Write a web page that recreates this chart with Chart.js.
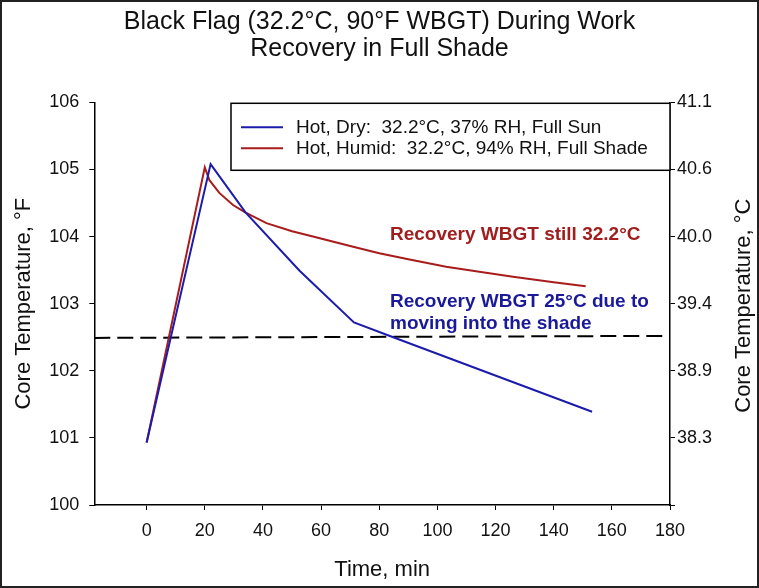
<!DOCTYPE html>
<html lang="en">
<head>
  <meta charset="UTF-8">
  <title>Black Flag During Work</title>
  <script src="https://cdn.jsdelivr.net/npm/chart.js"></script>
  <style>
    html, body { margin: 0; padding: 0; background: #fff; }
    #chart { display: block; }
  </style>
</head>
<body>
  <canvas id="chart" width="759" height="588"></canvas>

  <script>
    // values (time in min, core temp in °F)
    const dryTime = [0, 22, 34, 52.6, 71.3, 84.8, 153.2];
    const dryTemp = [100.93, 105.08, 104.36, 103.49, 102.72, 102.50, 101.39];

    const humidTime = [0, 20, 21.6, 25, 29.7, 33.9, 41.2, 50, 57.2, 70, 80, 90, 103, 115, 126, 140, 151];
    const humidTemp = [100.93, 105.03, 104.84, 104.65, 104.47, 104.36, 104.2, 104.08, 104.0, 103.86, 103.75, 103.66, 103.55, 103.47, 103.40, 103.32, 103.26];

    const limitTime = [-18, 180];
    const limitTemp = [102.49, 102.52];

    const seriesNames = [
      'Hot, Dry:  32.2°C, 37% RH, Full Sun',
      'Hot, Humid:  32.2°C, 94% RH, Full Shade'
    ];

    const xTicks = [0, 20, 40, 60, 80, 100, 120, 140, 160, 180];
    const yTicks = [100, 101, 102, 103, 104, 105, 106];

    const blue = '#1c1cac';
    const red = '#a81c1c';
    const FONT = 'Liberation Sans, Arial, sans-serif';

    const pts = (xs, ys) => xs.map((x, i) => ({ x: x, y: ys[i] }));
    const fToC = f => ((f - 32) * 5 / 9).toFixed(1);

    // white page + outer frame
    const frame = {
      id: 'frame',
      beforeDraw(chart) {
        const c = chart.ctx;
        c.save();
        c.fillStyle = '#fff';
        c.fillRect(0, 0, chart.width, chart.height);
        c.restore();
      },
      afterDraw(chart) {
        const c = chart.ctx;
        c.save();
        c.strokeStyle = '#222';
        c.lineWidth = 2;
        c.strokeRect(1, 1, chart.width - 2, chart.height - 2);
        c.restore();
      }
    };

    // boxed legend, text notes and the right-hand axis title
    const extras = {
      id: 'extras',
      afterDraw(chart) {
        const c = chart.ctx;
        const a = chart.chartArea;
        const xs = chart.scales.x, ys = chart.scales.y;
        c.save();

        // legend box
        const bw = 439, bh = 67;
        const bx = a.right - bw, by = a.top + 1;
        c.fillStyle = '#fff';
        c.fillRect(bx, by, bw, bh);
        c.strokeStyle = '#000';
        c.lineWidth = 1.5;
        c.strokeRect(bx, by, bw, bh);
        c.font = '19px ' + FONT;
        c.textBaseline = 'middle';
        c.textAlign = 'left';
        const rows = [by + 24, by + 45];
        chart.data.datasets.slice(0, 2).forEach((ds, i) => {
          c.strokeStyle = ds.borderColor;
          c.lineWidth = 2;
          c.beginPath();
          c.moveTo(bx + 10, rows[i]);
          c.lineTo(bx + 52, rows[i]);
          c.stroke();
          c.fillStyle = '#111';
          c.fillText(ds.label, bx + 65, rows[i]);
        });

        // notes
        c.font = 'bold 19px ' + FONT;
        c.fillStyle = '#a01e1e';
        c.fillText('Recovery WBGT still 32.2°C', xs.getPixelForValue(83.7), ys.getPixelForValue(104.02));
        c.fillStyle = '#1a1a99';
        c.fillText('Recovery WBGT 25°C due to', xs.getPixelForValue(83.7), ys.getPixelForValue(103.03));
        c.fillText('moving into the shade', xs.getPixelForValue(83.7), ys.getPixelForValue(102.70));

        // right axis title, reading upwards
        c.font = '22px ' + FONT;
        c.fillStyle = '#111';
        c.textAlign = 'center';
        c.translate(744, (a.top + a.bottom) / 2 + 2);
        c.rotate(-Math.PI / 2);
        c.fillText('Core Temperature, °C', 0, 0);
        c.restore();
      }
    };

    const tickFont = { family: FONT, size: 18 };

    new Chart(document.getElementById('chart'), {
      type: 'line',
      data: {
        datasets: [
          { label: seriesNames[0], data: pts(dryTime, dryTemp), borderColor: blue, borderWidth: 2 },
          { label: seriesNames[1], data: pts(humidTime, humidTemp), borderColor: red, borderWidth: 2 },
          { label: 'limit', data: pts(limitTime, limitTemp), borderColor: '#000', borderWidth: 2, borderDash: [16, 7] }
        ]
      },
      options: {
        responsive: false,
        animation: false,
        devicePixelRatio: 1,
        layout: { padding: 0 },
        elements: { point: { radius: 0 }, line: { tension: 0 } },
        plugins: {
          legend: { display: false },
          tooltip: { enabled: false },
          title: {
            display: true,
            text: ['Black Flag (32.2°C, 90°F WBGT) During Work', 'Recovery in Full Shade'],
            color: '#111',
            font: { family: FONT, size: 25, weight: 'normal', lineHeight: 1.08 },
            padding: { top: 8.5, bottom: 39.8 }
          }
        },
        scales: {
          x: {
            type: 'linear',
            min: -18,
            max: 180,
            afterBuildTicks: s => { s.ticks = xTicks.map(v => ({ value: v })); },
            afterFit: s => { s.height = 83; },
            grid: { drawOnChartArea: false, drawTicks: true, tickLength: 5, color: '#000' },
            border: { display: true, color: '#000', width: 1.5 },
            ticks: { color: '#111', font: tickFont, padding: 10, maxRotation: 0 },
            title: { display: true, text: 'Time, min', color: '#111', font: { family: FONT, size: 22 }, padding: { top: 0, bottom: 5 } }
          },
          y: {
            position: 'left',
            min: 100,
            max: 106,
            afterBuildTicks: s => { s.ticks = yTicks.map(v => ({ value: v })); },
            afterFit: s => { s.width = 94.3; },
            grid: { drawOnChartArea: false, drawTicks: true, tickLength: 5, color: '#000' },
            border: { display: true, color: '#000', width: 1.5 },
            ticks: { color: '#111', font: tickFont, padding: 10 },
            title: { display: true, text: 'Core Temperature, °F', color: '#111', font: { family: FONT, size: 22 }, padding: { top: 11, bottom: 0 } }
          },
          y2: {
            position: 'right',
            min: 100,
            max: 106,
            afterBuildTicks: s => { s.ticks = yTicks.map(v => ({ value: v })); },
            afterFit: s => { s.width = 89; },
            grid: { drawOnChartArea: false, drawTicks: true, tickLength: 5, color: '#000' },
            border: { display: true, color: '#000', width: 1.5 },
            ticks: { color: '#111', font: tickFont, padding: 2, callback: v => v === 100 ? '' : fToC(v) }
          }
        }
      },
      plugins: [frame, extras]
    });
  </script>
</body>
</html>
